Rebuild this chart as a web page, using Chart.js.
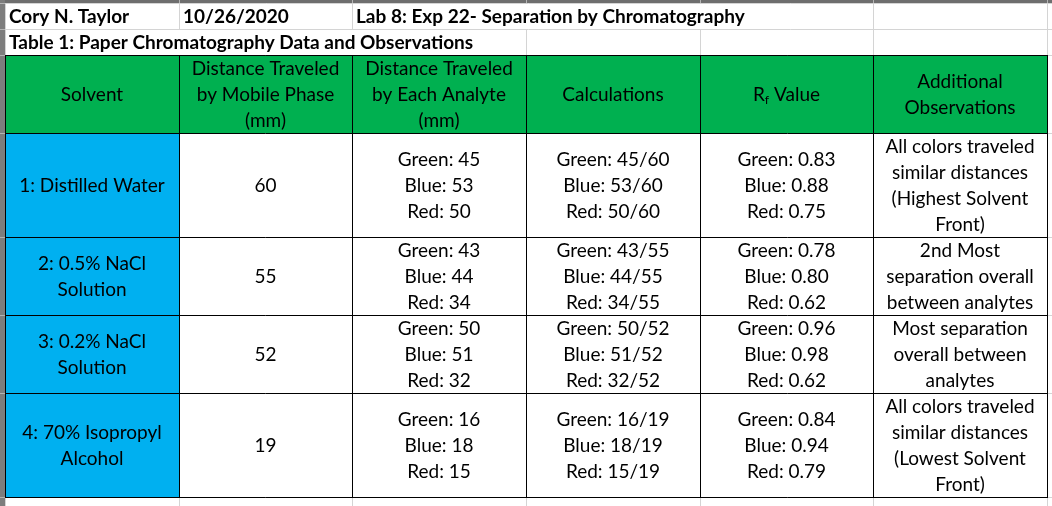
<!doctype html>
<html lang="en">
<head>
<meta charset="utf-8">
<title>Table 1: Paper Chromatography Data and Observations</title>
<script src="https://cdn.jsdelivr.net/npm/chart.js"></script>
<style>
  html, body { margin: 0; padding: 0; background: #fff; overflow: hidden; }
  #sheet { display: block; }
</style>
</head>
<body>
<canvas id="sheet" width="1052" height="506"></canvas>
<script>
// --- sheet text / data ---
var studentName = "Cory N. Taylor";
var labDate = "10/26/2020";
var labTitle = "Lab 8: Exp 22- Separation by Chromatography";
var tableTitle = "Table 1: Paper Chromatography Data and Observations";

var headers = [
    ["Solvent"],
    ["Distance Traveled", "by Mobile Phase", "(mm)"],
    ["Distance Traveled", "by Each Analyte", "(mm)"],
    ["Calculations"],
    ["R_f Value"],
    ["Additional", "Observations"]
];
var solvents = [
    ["1: Distilled Water"],
    ["2: 0.5% NaCl", "Solution"],
    ["3: 0.2% NaCl", "Solution"],
    ["4: 70% Isopropyl", "Alcohol"]
];
var mobilePhase = [60, 55, 52, 19];
var analytes = ["Green", "Blue", "Red"];
var greenDist = [45, 43, 50, 16];
var blueDist = [53, 44, 51, 18];
var redDist = [50, 34, 32, 15];
var greenRf = ["0.83", "0.78", "0.96", "0.84"];
var blueRf = ["0.88", "0.80", "0.98", "0.94"];
var redRf = ["0.75", "0.62", "0.62", "0.79"];
var observations = [
    ["All colors traveled", "similar distances", "(Highest Solvent", "Front)"],
    ["2nd Most", "separation overall", "between analytes"],
    ["Most separation", "overall between", "analytes"],
    ["All colors traveled", "similar distances", "(Lowest Solvent", "Front)"]
];

// --- build the rows of the table ---
var dists = [greenDist, blueDist, redDist];
var rfs = [greenRf, blueRf, redRf];
var dataRows = solvents.map(function (s, i) {
    return [
        s,
        [String(mobilePhase[i])],
        analytes.map(function (a, k) { return a + ": " + dists[k][i]; }),
        analytes.map(function (a, k) { return a + ": " + dists[k][i] + "/" + mobilePhase[i]; }),
        analytes.map(function (a, k) { return a + ": " + rfs[k][i]; }),
        observations[i]
    ];
});
var tableRows = [headers].concat(dataRows);

// row sizes in "text lines"
var rowLines = [1, 1].concat(tableRows.map(function (r) {
    return Math.max.apply(null, r.map(function (c) { return c.length; }));
}));
var rowEdges = [0];
rowLines.forEach(function (n) { rowEdges.push(rowEdges[rowEdges.length - 1] + n); });
var totalLines = rowEdges[rowEdges.length - 1];
var nCols = headers.length;

var FONT = "Lato, 'Open Sans', sans-serif";
var FSIZE = 19;

function drawRich(ctx, txt, cx, cy) {
    // "R_f" -> R with subscript f
    var parts = txt.split(/_(\w)/);
    var widths = [];
    var total = 0;
    parts.forEach(function (p, i) {
        ctx.font = (i % 2 ? (FSIZE * 0.65) : FSIZE) + "px " + FONT;
        var w = ctx.measureText(p).width;
        widths.push(w);
        total += w;
    });
    var x = cx - total / 2;
    ctx.textAlign = "left";
    parts.forEach(function (p, i) {
        ctx.font = (i % 2 ? (FSIZE * 0.65) : FSIZE) + "px " + FONT;
        ctx.fillText(p, x, i % 2 ? cy + 5 : cy);
        x += widths[i];
    });
}

var sheetPlugin = {
    id: "sheetTable",
    afterDraw: function (chart) {
        var ctx = chart.ctx;
        var xs = chart.scales.x, ys = chart.scales.y;
        var px = function (c) { return Math.round(xs.getPixelForValue(c)); };
        var py = function (r) { return Math.round(ys.getPixelForValue(r)); };
        var lineH = ys.getPixelForValue(1) - ys.getPixelForValue(0);
        var W = chart.width, H = chart.height;
        ctx.save();

        // background
        ctx.fillStyle = "#ffffff";
        ctx.fillRect(0, 0, W, H);

        // light gridlines
        ctx.strokeStyle = "#d4d4d4";
        ctx.lineWidth = 1;
        ctx.beginPath();
        for (var c = 0; c <= nCols; c++) {
            ctx.moveTo(px(c) + 0.5, py(0));
            ctx.lineTo(px(c) + 0.5, H);
        }
        rowEdges.forEach(function (r) {
            ctx.moveTo(px(0), py(r) + 0.5);
            ctx.lineTo(W, py(r) + 0.5);
        });
        ctx.stroke();

        // title rows (left aligned, bold, overflowing into next cells)
        var titles = [
            { row: 0, col: 0, text: studentName },
            { row: 0, col: 1, text: labDate },
            { row: 0, col: 2, text: labTitle },
            { row: 1, col: 0, text: tableTitle }
        ];
        ctx.font = "bold " + FSIZE + "px " + FONT;
        ctx.textBaseline = "middle";
        ctx.textAlign = "left";
        titles.forEach(function (t) {
            var x0 = px(t.col) + 4;
            var end = x0 + ctx.measureText(t.text).width;
            var last = t.col;
            while (last + 1 < nCols && px(last + 1) < end) last++;
            var y0 = py(rowEdges[t.row]), y1 = py(rowEdges[t.row + 1]);
            if (last > t.col) {
                ctx.fillStyle = "#ffffff";
                ctx.fillRect(px(t.col) + 1, y0 + 1, px(last + 1) - px(t.col) - 1, y1 - y0 - 1);
            }
            ctx.fillStyle = "#000000";
            ctx.fillText(t.text, x0, (y0 + y1) / 2 + 1);
        });

        // table cells
        tableRows.forEach(function (row, ri) {
            var r = ri + 2;
            var y0 = py(rowEdges[r]), y1 = py(rowEdges[r + 1]);
            row.forEach(function (lines, ci) {
                var x0 = px(ci), x1 = px(ci + 1);
                ctx.fillStyle = ri === 0 ? "#00b050" : (ci === 0 ? "#00b0f0" : "#ffffff");
                ctx.fillRect(x0, y0, x1 - x0, y1 - y0);
                ctx.fillStyle = "#000000";
                ctx.font = FSIZE + "px " + FONT;
                ctx.textBaseline = "middle";
                ctx.textAlign = "center";
                var cx = (x0 + x1) / 2, cy = (y0 + y1) / 2 + 1;
                lines.forEach(function (ln, li) {
                    var ly = cy + (li - (lines.length - 1) / 2) * lineH;
                    if (ln.indexOf("_") >= 0) drawRich(ctx, ln, cx, ly);
                    else ctx.fillText(ln, cx, ly);
                });
            });
        });

        // black borders
        ctx.strokeStyle = "#000000";
        ctx.beginPath();
        for (var r2 = 2; r2 < rowEdges.length; r2++) {
            ctx.moveTo(px(0), py(rowEdges[r2]) + 0.5);
            ctx.lineTo(px(nCols) + 1, py(rowEdges[r2]) + 0.5);
        }
        for (var c2 = 0; c2 <= nCols; c2++) {
            ctx.moveTo(px(c2) + 0.5, py(rowEdges[2]));
            ctx.lineTo(px(c2) + 0.5, py(totalLines) + 1);
        }
        ctx.stroke();

        // spreadsheet frame: column header bar and row header strip
        ctx.fillStyle = "#6e6e6e";
        ctx.fillRect(0, 0, W, py(0));
        ctx.fillStyle = "#7d7d7d";
        ctx.fillRect(0, 0, px(0), H);
        ctx.fillStyle = "#b4b4b4";
        for (var c3 = 1; c3 <= nCols; c3++) ctx.fillRect(px(c3), 0, 1, py(0));
        rowEdges.forEach(function (r) { ctx.fillRect(0, py(r), px(0), 1); });

        ctx.restore();
    }
};

new Chart(document.getElementById("sheet"), {
    type: "scatter",
    data: { datasets: [] },
    options: {
        responsive: false,
        animation: false,
        devicePixelRatio: 1,
        layout: { padding: { left: 5, right: 5, top: 3, bottom: 9 } },
        plugins: { legend: { display: false }, tooltip: { enabled: false } },
        scales: {
            x: { type: "linear", min: 0, max: nCols, display: false },
            y: { type: "linear", min: 0, max: totalLines, reverse: true, display: false }
        }
    },
    plugins: [sheetPlugin]
});
</script>
</body>
</html>
